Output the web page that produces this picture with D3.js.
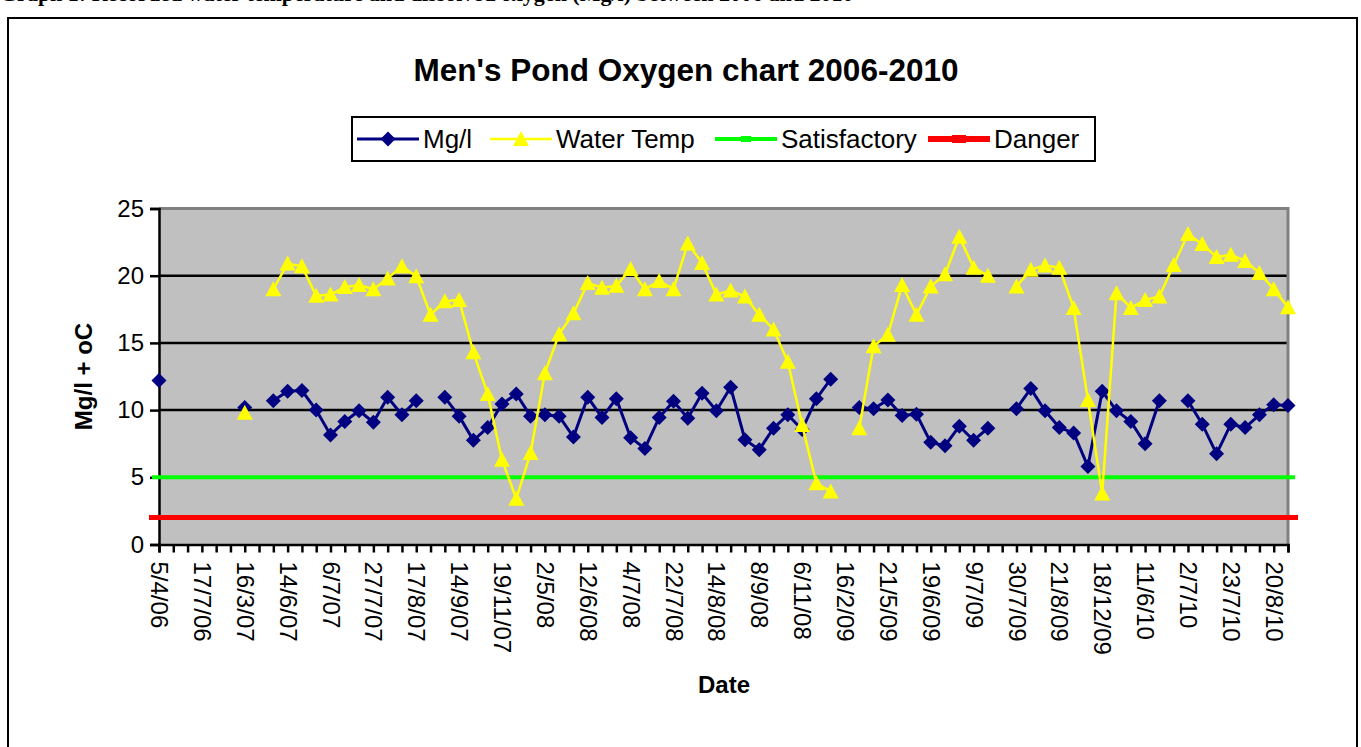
<!DOCTYPE html>
<html>
<head>
<meta charset="utf-8">
<script src="https://cdnjs.cloudflare.com/ajax/libs/d3/7.8.5/d3.min.js"></script>
<style>
  html, body { margin: 0; padding: 0; background: #ffffff; overflow: hidden; }
  svg { display: block; }
  text { font-family: "Liberation Sans", Arial, sans-serif; }
</style>
</head>
<body>
<svg id="chart" width="1361" height="747"></svg>
<script>
// ---------------- data ----------------
const chartTitle = "Men's Pond Oxygen chart 2006-2010";
const captionText = "Graph 1: Recorded water temperature and dissolved oxygen (Mg/l) between 2006 and 2010";
const seriesNames = ["Mg/l", "Water Temp", "Satisfactory", "Danger"];

// tick labels: one every third sampling date
const dateLabels = ["5/4/06","17/7/06","16/3/07","14/6/07","6/7/07","27/7/07","17/8/07","14/9/07",
  "19/11/07","2/5/08","12/6/08","4/7/08","22/7/08","14/8/08","8/9/08","6/11/08","16/2/09",
  "21/5/09","19/6/09","9/7/09","30/7/09","21/8/09","18/12/09","11/6/10","2/7/10","23/7/10","20/8/10"];
const labelEvery = 3;

// dissolved oxygen (mg/l), one value per sampling date (null = not recorded)
const oxygenMgl = [12.2, null, null, null, null, null, 10.2, null, 10.7, 11.4,
  11.45, 10.0, 8.15, 9.15, 9.95, 9.1, 10.95, 9.65, 10.7, null,
  10.95, 9.55, 7.75, 8.7, 10.45, 11.2, 9.55, 9.65, 9.55, 8.0,
  10.95, 9.45, 10.85, 7.95, 7.15, 9.45, 10.65, 9.4, 11.25, 9.95,
  11.7, 7.8, 7.05, 8.65, 9.65, 8.55, 10.85, 12.3, null, 10.2,
  10.1, 10.75, 9.6, 9.7, 7.6, 7.35, 8.8, 7.75, 8.65, null,
  10.1, 11.6, 9.95, 8.7, 8.3, 5.8, 11.4, 9.95, 9.15, 7.5,
  10.7, null, 10.7, 8.95, 6.75, 8.95, 8.7, 9.65, 10.4, 10.35];

// water temperature (oC)
const waterTemp = [null, null, null, null, null, null, 9.8, null, 19.0, 20.9,
  20.7, 18.5, 18.6, 19.15, 19.3, 19.0, 19.8, 20.7, 19.95, 17.1,
  18.1, 18.2, 14.3, 11.2, 6.3, 3.4, 6.8, 12.75, 15.65, 17.2,
  19.45, 19.1, 19.25, 20.5, 19.0, 19.6, 19.0, 22.4, 20.95, 18.6,
  18.9, 18.45, 17.1, 16.0, 13.6, 8.9, 4.55, 3.95, null, 8.65,
  14.75, 15.6, 19.3, 17.1, 19.2, 20.1, 22.9, 20.6, 20.0, null,
  19.2, 20.45, 20.75, 20.6, 17.6, 10.75, 3.8, 18.7, 17.6, 18.2,
  18.45, 20.8, 23.1, 22.35, 21.4, 21.55, 21.1, 20.2, 19.0, 17.65];

const satisfactoryLevel = 5;
const dangerLevel = 2;
const yTicks = [0, 5, 10, 15, 20, 25];

// ---------------- drawing ----------------
const categories = oxygenMgl.map((d, i) => i);
const svg = d3.select("#chart");

const P = { left: 159, right: 1288, top: 208.5, bottom: 544.5 };
const FONT = "'Liberation Sans', Arial, sans-serif";

// caption above the chart (mostly cut off by the top edge, as in the reference)
svg.append("text").attr("x", 0).attr("y", 1)
  .style("font-family", "'Liberation Serif', 'Times New Roman', serif")
  .style("font-weight", "bold").style("font-size", "22px")
  .text(captionText);

// outer chart frame
svg.append("rect").attr("x", 8).attr("y", 18).attr("width", 1349).attr("height", 760)
  .attr("fill", "#ffffff").attr("stroke", "#000").attr("stroke-width", 2);

const x = d3.scalePoint().domain(categories).range([P.left, P.right]);
const y = d3.scaleLinear().domain([0, 25]).range([P.bottom, P.top]);

// plot background
svg.append("rect").attr("x", P.left).attr("y", P.top)
  .attr("width", P.right - P.left).attr("height", P.bottom - P.top)
  .attr("fill", "#C0C0C0");

// gridlines
svg.append("g").selectAll("line").data(yTicks.filter(v => v > 0 && v < 25)).join("line")
  .attr("x1", P.left).attr("x2", P.right)
  .attr("y1", d => y(d)).attr("y2", d => y(d))
  .attr("stroke", "#000").attr("stroke-width", 2.5);

// top/right border of plot area (grey)
svg.append("path")
  .attr("d", `M${P.left},${y(25)}H${P.right}V${P.bottom}`)
  .attr("fill", "none").attr("stroke", "#808080").attr("stroke-width", 3);

// y axis
const yAxis = svg.append("g").attr("transform", `translate(${P.left},0)`)
  .call(d3.axisLeft(y).tickValues(yTicks).tickSize(9).tickPadding(6));
yAxis.select(".domain").attr("stroke", "#000").attr("stroke-width", 2.5);
yAxis.selectAll(".tick line").attr("stroke", "#000").attr("stroke-width", 2.5);
yAxis.selectAll(".tick text").style("font-family", FONT).style("font-size", "24px").attr("fill", "#000");

// x axis
const xAxis = svg.append("g").attr("transform", `translate(0,${P.bottom})`)
  .call(d3.axisBottom(x).tickValues(categories).tickSize(8)
    .tickFormat(i => i % labelEvery === 0 ? dateLabels[i / labelEvery] : ""));
xAxis.select(".domain").attr("stroke", "#000").attr("stroke-width", 2.5);
xAxis.selectAll(".tick line").attr("stroke", "#000").attr("stroke-width", 2.5);
xAxis.selectAll(".tick text")
  .attr("transform", "rotate(90)")
  .attr("x", 17).attr("y", 0).attr("dy", "0.35em")
  .style("text-anchor", "start")
  .style("font-family", FONT).style("font-size", "24px").attr("fill", "#000");

// threshold lines
svg.append("line").attr("x1", P.left - 7).attr("x2", P.right + 7)
  .attr("y1", y(satisfactoryLevel)).attr("y2", y(satisfactoryLevel))
  .attr("stroke", "#00FF00").attr("stroke-width", 4);
svg.append("line").attr("x1", P.left - 10).attr("x2", P.right + 10)
  .attr("y1", y(dangerLevel)).attr("y2", y(dangerLevel))
  .attr("stroke", "#FF0000").attr("stroke-width", 5);

const diamond = "M0,-7.5L7.5,0L0,7.5L-7.5,0Z";
const triangle = "M0,-8L8,7L-8,7Z";

const line = d3.line().defined(d => d.v != null).x(d => x(d.i)).y(d => y(d.v));

// Mg/l series
const mgData = oxygenMgl.map((v, i) => ({ i, v }));
svg.append("path").datum(mgData).attr("d", line)
  .attr("fill", "none").attr("stroke", "#000080").attr("stroke-width", 3);
svg.append("g").selectAll("path").data(mgData.filter(d => d.v != null)).join("path")
  .attr("d", diamond).attr("transform", d => `translate(${x(d.i)},${y(d.v)})`)
  .attr("fill", "#000080");

// Water temperature series
const tData = waterTemp.map((v, i) => ({ i, v }));
svg.append("path").datum(tData).attr("d", line)
  .attr("fill", "none").attr("stroke", "#FFFF00").attr("stroke-width", 2.5);
svg.append("g").selectAll("path").data(tData.filter(d => d.v != null)).join("path")
  .attr("d", triangle).attr("transform", d => `translate(${x(d.i)},${y(d.v)})`)
  .attr("fill", "#FFFF00");

// axis titles
svg.append("text").attr("transform", `translate(84,${(P.top + P.bottom) / 2}) rotate(-90)`)
  .attr("text-anchor", "middle").attr("dy", "0.35em")
  .style("font-family", FONT).style("font-weight", "bold").style("font-size", "24px")
  .text("Mg/l + oC");
svg.append("text").attr("x", 724).attr("y", 685).attr("dy", "0.35em")
  .attr("text-anchor", "middle")
  .style("font-family", FONT).style("font-weight", "bold").style("font-size", "24px")
  .text("Date");

// title
svg.append("text").attr("x", 686).attr("y", 70).attr("dy", "0.35em")
  .attr("text-anchor", "middle")
  .style("font-family", FONT).style("font-weight", "bold").style("font-size", "31.5px")
  .text(chartTitle);

// legend
const lg = svg.append("g");
lg.append("rect").attr("x", 352).attr("y", 117).attr("width", 743).attr("height", 44)
  .attr("fill", "#fff").attr("stroke", "#000").attr("stroke-width", 2);
const legendItems = [
  { name: seriesNames[0], x0: 357, color: "#000080", w: 3, marker: diamond },
  { name: seriesNames[1], x0: 490, color: "#FFFF00", w: 2.5, marker: triangle },
  { name: seriesNames[2], x0: 715, color: "#00FF00", w: 4, marker: "M-5,-3H5V3H-5Z" },
  { name: seriesNames[3], x0: 928, color: "#FF0000", w: 6, marker: "M-7,-4H7V4H-7Z" }
];
const ly = 139;
legendItems.forEach(it => {
  lg.append("line").attr("x1", it.x0).attr("x2", it.x0 + 62).attr("y1", ly).attr("y2", ly)
    .attr("stroke", it.color).attr("stroke-width", it.w);
  lg.append("path").attr("d", it.marker).attr("transform", `translate(${it.x0 + 31},${ly})`)
    .attr("fill", it.color);
  lg.append("text").attr("x", it.x0 + 66).attr("y", ly).attr("dy", "0.35em")
    .style("font-family", FONT).style("font-size", "26px").text(it.name);
});
</script>
</body>
</html>
